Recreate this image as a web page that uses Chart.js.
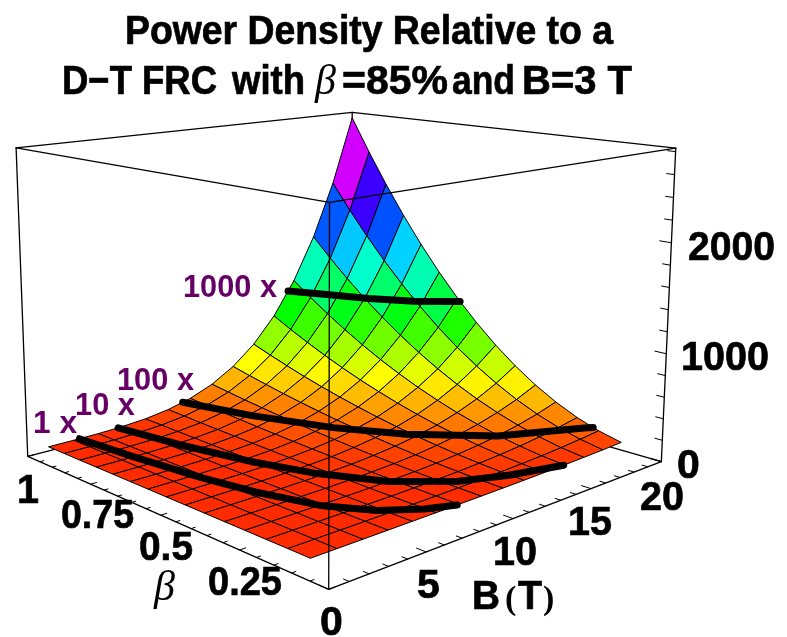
<!DOCTYPE html>
<html>
<head>
<meta charset="utf-8">
<title>Power Density</title>
<script src="https://cdn.jsdelivr.net/npm/chart.js@4"></script>
<style>
  html, body { margin: 0; padding: 0; background: #fff; }
  canvas { display: block; }
</style>
</head>
<body>
<canvas id="chart-1" width="787" height="637"></canvas>
<script>
// values
const betaValues = [0.11, 0.174, 0.237, 0.301, 0.364, 0.428, 0.491, 0.555, 0.619, 0.682, 0.746, 0.809, 0.873, 0.936, 1];
const fieldValues = [1.1, 2.45, 3.8, 5.15, 6.5, 7.85, 9.2, 10.55, 11.9, 13.25, 14.6, 15.95, 17.3, 18.65, 20];
// one row per beta, one column per B
const powerDensity = [
  [0, 0.01, 0.04, 0.14, 0.37, 0.78, 1.5, 2.6, 4.1, 6.3, 9.4, 13, 18, 25, 33],
  [0, 0.02, 0.11, 0.36, 0.92, 2, 3.7, 6.4, 10, 16, 24, 33, 46, 63, 83],
  [0, 0.03, 0.2, 0.67, 1.7, 3.6, 6.9, 12, 19, 30, 44, 62, 86, 116, 153],
  [0, 0.06, 0.32, 1.1, 2.8, 5.9, 11, 19, 31, 48, 70, 100, 139, 187, 248],
  [0, 0.08, 0.47, 1.6, 4, 8.6, 16, 28, 45, 70, 103, 147, 203, 274, 362],
  [0, 0.11, 0.65, 2.2, 5.6, 12, 22, 39, 63, 96, 142, 203, 280, 379, 501],
  [0.01, 0.15, 0.86, 2.9, 7.3, 16, 29, 51, 83, 127, 187, 267, 369, 499, 659],
  [0.01, 0.19, 1.1, 3.7, 9.4, 20, 38, 65, 106, 162, 239, 341, 471, 637, 842],
  [0.01, 0.24, 1.4, 4.6, 12, 25, 47, 81, 132, 202, 298, 424, 587, 792, 1047],
  [0.01, 0.29, 1.7, 5.6, 14, 30, 57, 99, 160, 245, 361, 514, 712, 962, 1271],
  [0.01, 0.34, 2, 6.7, 17, 36, 68, 118, 191, 293, 432, 615, 852, 1151, 1521],
  [0.02, 0.4, 2.3, 7.9, 20, 42, 80, 139, 225, 344, 508, 724, 1002, 1353, 1789],
  [0.02, 0.47, 2.7, 9.2, 23, 49, 93, 161, 262, 401, 592, 843, 1167, 1576, 2084],
  [0.02, 0.54, 3.1, 11, 27, 57, 107, 186, 301, 461, 680, 969, 1341, 1812, 2395],
  [0.02, 0.62, 3.6, 12, 30, 65, 122, 212, 343, 526, 776, 1106, 1531, 2068, 2733]
];

// the black "N x" curves, as [beta, B] along the surface
const curve1x = [[1, 2.76], [0.8, 3.09], [0.6, 3.58], [0.45, 4.13], [0.3, 5.03], [0.2, 6.3], [0.14, 7.8], [0.11, 9.1]];
const curve10x = [[1, 4.92], [0.8, 5.5], [0.6, 6.37], [0.45, 7.35], [0.3, 8.95], [0.2, 11.1], [0.15, 13.2], [0.11, 15.9]];
const curve100x = [[1, 8.73], [0.8, 9.77], [0.6, 11.3], [0.45, 13.06], [0.3, 15.9], [0.2, 19.6], [0.19, 20]];
const curve1000x = [[1, 15.55], [0.9, 16.4], [0.8, 17.39], [0.7, 18.6], [0.61, 20]];

const betaTicks = [0, 0.05, 0.1, 0.15, 0.2, 0.25, 0.3, 0.35, 0.4, 0.45, 0.5, 0.55, 0.6, 0.65, 0.7, 0.75, 0.8, 0.85, 0.9, 0.95, 1];
const fieldTicks = [0, 1, 2, 3, 4, 5, 6, 7, 8, 9, 10, 11, 12, 13, 14, 15, 16, 17, 18, 19, 20];
const powerTicks = [0, 200, 400, 600, 800, 1000, 1200, 1400, 1600, 1800, 2000, 2200, 2400, 2600, 2800];
const boxTop = 2830;
const surfaceLift = 40; // the sheet floats a little above the box floor

// box corners on the page, used to fit the camera
const cameraPins = [
  [1, 0, 0, 28, 457], [0, 0, 0, 329, 589], [0, 20, 0, 662, 464], [1, 20, 0, 351, 372],
  [1, 0, boxTop, 16, 147], [0, 0, boxTop, 329, 203], [0, 20, boxTop, 678, 150], [1, 20, boxTop, 352, 113],
  [0, 20, 1000, 665, 351], [0, 20, 2000, 670, 241]
];

function solve(a, b) {
  const n = b.length;
  for (let i = 0; i < n; i++) {
    let p = i;
    for (let r = i + 1; r < n; r++) if (Math.abs(a[r][i]) > Math.abs(a[p][i])) p = r;
    [a[i], a[p]] = [a[p], a[i]];
    [b[i], b[p]] = [b[p], b[i]];
    for (let r = i + 1; r < n; r++) {
      const f = a[r][i] / a[i][i];
      for (let c = i; c < n; c++) a[r][c] -= f * a[i][c];
      b[r] -= f * b[i];
    }
  }
  const x = new Array(n);
  for (let i = n - 1; i >= 0; i--) {
    let s = b[i];
    for (let c = i + 1; c < n; c++) s -= a[i][c] * x[c];
    x[i] = s / a[i][i];
  }
  return x;
}

function fitCamera() {
  const rows = [], rhs = [];
  cameraPins.forEach(([be, f, z, px, py]) => {
    const u = be, v = f / 20, w = z / boxTop, sx = px / 100, sy = py / 100;
    rows.push([u, v, w, 1, 0, 0, 0, 0, -sx * u, -sx * v, -sx * w]); rhs.push(sx);
    rows.push([0, 0, 0, 0, u, v, w, 1, -sy * u, -sy * v, -sy * w]); rhs.push(sy);
  });
  const ata = [], atb = [];
  for (let i = 0; i < 11; i++) {
    ata.push(new Array(11).fill(0));
    atb.push(0);
    rows.forEach((r, k) => {
      for (let j = 0; j < 11; j++) ata[i][j] += r[i] * r[j];
      atb[i] += r[i] * rhs[k];
    });
  }
  return solve(ata, atb);
}

const cam = fitCamera();

function project(be, f, z) {
  const u = be, v = f / 20, w = z / boxTop;
  const h = cam[8] * u + cam[9] * v + cam[10] * w + 1;
  return {
    x: 100 * (cam[0] * u + cam[1] * v + cam[2] * w + cam[3]) / h,
    y: 100 * (cam[4] * u + cam[5] * v + cam[6] * w + cam[7]) / h
  };
}

function cellIndex(list, v) {
  let i = 0;
  while (i < list.length - 2 && list[i + 1] < v) i++;
  return i;
}

function surfaceAt(be, f) {
  const i = cellIndex(betaValues, be), j = cellIndex(fieldValues, f);
  const s = (be - betaValues[i]) / (betaValues[i + 1] - betaValues[i]);
  const t = (f - fieldValues[j]) / (fieldValues[j + 1] - fieldValues[j]);
  return (1 - s) * ((1 - t) * powerDensity[i][j] + t * powerDensity[i][j + 1]) +
    s * ((1 - t) * powerDensity[i + 1][j] + t * powerDensity[i + 1][j + 1]);
}

function lineSet(points, width) {
  return {
    data: points, showLine: true, fill: false, borderColor: '#000', borderWidth: width,
    pointRadius: 0, borderCapStyle: 'round', borderJoinStyle: 'round', clip: false
  };
}

function cellColor(mean) {
  return 'hsl(' + (10 + 339 * mean / 2733) + ', 100%, 50%)';
}

const datasets = [];

// first dataset ends up on top, so front things go first
[curve1x, curve10x, curve100x, curve1000x].forEach(curve => {
  const pts = curve.map(([be, f]) => project(be, f, surfaceAt(be, f) + surfaceLift));
  datasets.push(lineSet(pts, 7));
});

// front edges of the box
datasets.push(lineSet([project(1, 0, boxTop), project(0, 0, boxTop), project(0, 20, boxTop)], 1.3));
datasets.push(lineSet([project(0, 0, boxTop), project(0, 0, 0)], 1.3));
datasets.push(lineSet([project(1, 0, 0), project(0, 0, 0), project(0, 20, 0), project(0, 20, boxTop)], 1.3));
datasets.push(lineSet([project(1, 0, 0), project(1, 0, boxTop)], 1.3));

betaTicks.forEach((t, i) => {
  const len = i % 5 === 0 ? 0.3 : 0.2;
  datasets.push(lineSet([project(t, 0, 0), project(t, len, 0)], 1));
});
fieldTicks.forEach((t, i) => {
  const len = i % 5 === 0 ? 0.025 : 0.015;
  datasets.push(lineSet([project(0, t, 0), project(len, t, 0)], 1));
});
powerTicks.forEach((t, i) => {
  const len = i % 5 === 0 ? 0.03 : 0.02;
  datasets.push(lineSet([project(0, 20, t), project(len, 20, t)], 1));
});

// surface cells, nearest first
for (let i = 0; i < betaValues.length - 1; i++) {
  for (let j = 0; j < fieldValues.length - 1; j++) {
    const z = [powerDensity[i][j], powerDensity[i + 1][j], powerDensity[i + 1][j + 1], powerDensity[i][j + 1]];
    const mean = (z[0] + z[1] + z[2] + z[3]) / 4;
    const a = project(betaValues[i], fieldValues[j], z[0] + surfaceLift);
    const b = project(betaValues[i + 1], fieldValues[j], z[1] + surfaceLift);
    const c = project(betaValues[i + 1], fieldValues[j + 1], z[2] + surfaceLift);
    const d = project(betaValues[i], fieldValues[j + 1], z[3] + surfaceLift);
    datasets.push({
      data: [a, b, c, d, a], showLine: true, fill: 'shape', backgroundColor: cellColor(mean),
      borderColor: '#000', borderWidth: 1, pointRadius: 0, clip: false
    });
  }
}

// back edges of the box
datasets.push(lineSet([project(1, 0, boxTop), project(1, 20, boxTop), project(0, 20, boxTop)], 1.3));
datasets.push(lineSet([project(1, 20, boxTop), project(1, 20, 0)], 1.3));
datasets.push(lineSet([project(1, 0, 0), project(1, 20, 0), project(0, 20, 0)], 1.3));

const BOLD = 'bold 41px "Liberation Sans"';
const PURPLE = 'bold 32px "Liberation Sans"';
const BETA = 'italic 42px "Liberation Serif"';

// text, font, color, x, baseline y, max width
const pageText = [
  ['Power Density Relative to a', BOLD, '#000', 125, 44, 488],
  ['D\u2212T FRC', BOLD, '#000', 62, 94, 155],
  ['with', BOLD, '#000', 232, 94, 73],
  ['\u03B2', BETA, '#000', 315, 94, 26],
  ['=85%', BOLD, '#000', 342, 94, 106],
  ['and', BOLD, '#000', 452, 94, 63],
  ['B=3 T', BOLD, '#000', 522, 94, 110],
  ['1', BOLD, '#000', 17, 503, 22],
  ['0.75', BOLD, '#000', 61, 528, 73],
  ['0.5', BOLD, '#000', 139, 560, 54],
  ['0.25', BOLD, '#000', 208, 595, 74],
  ['0', BOLD, '#000', 320, 635, 24],
  ['5', BOLD, '#000', 417, 598, 24],
  ['10', BOLD, '#000', 493, 565, 44],
  ['15', BOLD, '#000', 568, 535, 44],
  ['20', BOLD, '#000', 640, 510, 44],
  ['0', BOLD, '#000', 677, 478, 24],
  ['1000', BOLD, '#000', 681, 370, 88],
  ['2000', BOLD, '#000', 688, 260, 87],
  ['\u03B2', BETA, '#000', 154, 600, 26],
  ['B', BOLD, '#000', 472, 609, 28],
  ['(', 'bold 34px "Liberation Serif"', '#000', 505, 609, 12],
  ['T', BOLD, '#000', 518, 609, 24],
  [')', 'bold 34px "Liberation Serif"', '#000', 543, 609, 12],
  ['1000 x', PURPLE, '#660066', 183, 297, 94],
  ['100 x', PURPLE, '#660066', 117, 390, 77],
  ['10 x', PURPLE, '#660066', 75, 415, 60],
  ['1 x', PURPLE, '#660066', 33, 433, 44]
];

const textPlugin = {
  id: 'pageText',
  afterDraw(chart) {
    const ctx = chart.ctx;
    const sx = chart.scales.x, sy = chart.scales.y;
    ctx.save();
    ctx.textAlign = 'left';
    ctx.textBaseline = 'alphabetic';
    pageText.forEach(([text, font, color, x, y, w]) => {
      ctx.font = font;
      ctx.fillStyle = color;
      ctx.fillText(text, sx.getPixelForValue(x), sy.getPixelForValue(y), w);
      if (font === BOLD) {
        ctx.strokeStyle = color;
        ctx.lineWidth = 0.7;
        ctx.strokeText(text, sx.getPixelForValue(x), sy.getPixelForValue(y), w);
      }
    });
    ctx.restore();
  }
};

const ctx1 = document.getElementById('chart-1').getContext('2d');

const myChart = new Chart(ctx1, {
  type: 'scatter',
  data: { datasets: datasets },
  plugins: [textPlugin],
  options: {
    responsive: false,
    animation: false,
    events: [],
    layout: { padding: 0 },
    plugins: { legend: { display: false }, tooltip: { enabled: false }, title: { display: false } },
    scales: {
      x: { type: 'linear', display: false, min: 0, max: 787 },
      y: { type: 'linear', display: false, min: 0, max: 637, reverse: true }
    }
  }
});
</script>
</body>
</html>
